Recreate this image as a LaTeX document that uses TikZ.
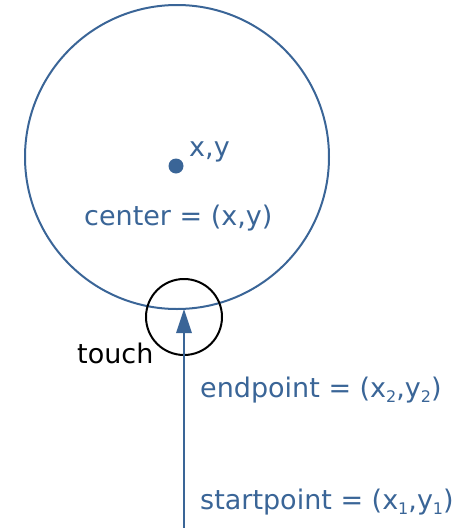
\documentclass[tikz,border=0pt]{standalone}
\usepackage{fontspec}
\setmainfont{DejaVu Sans}
\usetikzlibrary{arrows.meta}
\definecolor{blu}{HTML}{3A6597}
\newcommand\mysubs[1]{\raisebox{-0.35ex}{\fontsize{16}{18}\selectfont #1}}
\begin{document}
\begin{tikzpicture}[x=1pt,y=-1pt,
  lbl/.style={text=blu,font=\fontsize{27}{30}\selectfont,inner sep=0pt,anchor=west}]
\useasboundingbox (0,0) rectangle (465,528);
\node[draw=blu,line width=2pt,circle,minimum size=304pt,inner sep=0pt] (big) at (177,157) {};
\node[fill=blu,circle,minimum size=15pt,inner sep=0pt] (dot) at (176,166) {};
\node[lbl] (xy) at (189,152) {x,y};
\node[lbl] (center) at (84,218) {center = (x,y)};
\node[draw=black,line width=2pt,circle,minimum size=76pt,inner sep=0pt] (touch) at (184,317) {};
\coordinate (tip) at (184,309);
\coordinate (base) at (184,330);
\coordinate (start) at (184,528);
\draw[blu,line width=2.2pt] (start) -- (base);
\fill[blu] (tip) -- ++(-8,24) -- ++(16,0) -- cycle;
\node[lbl,text=black] (tl) at (77,353) {touch};
\node[lbl] (ep) at (200,390) {endpoint = (x\mysubs{2},y\mysubs{2})};
\node[lbl] (sp) at (200,502) {startpoint = (x\mysubs{1},y\mysubs{1})};
\end{tikzpicture}
\end{document}
